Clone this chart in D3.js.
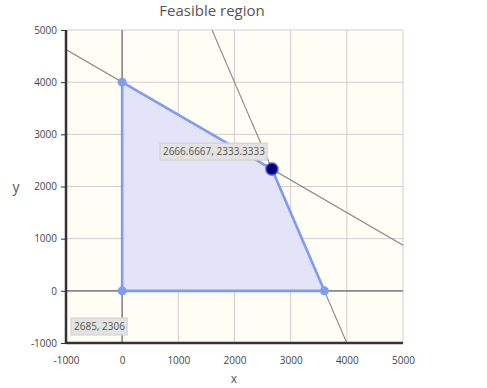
<!DOCTYPE html>
<html>
<head>
<meta charset="utf-8">
<script src="https://cdn.jsdelivr.net/npm/d3@7"></script>
<style>
  body { margin: 0; background: #fff; }
  svg { display: block; font-family: "Open Sans", sans-serif; }
</style>
</head>
<body>
<svg id="chart" width="487" height="388"></svg>
<script>
// data
const xTicks = [-1000, 0, 1000, 2000, 3000, 4000, 5000];
const yTicks = [-1000, 0, 1000, 2000, 3000, 4000, 5000];
// constraint lines a*x + b*y = c
const constraints = [
  { a: 5, b: 8, c: 32000 },
  { a: 5, b: 2, c: 18000 }
];
// feasible polygon vertices
const vertX = [0, 0, 2666.6667, 3600];
const vertY = [0, 4000, 2333.3333, 0];
const optimum = [2666.6667, 2333.3333];
const cursorLabel = "2685, 2306";

const margin = { top: 30, right: 84, bottom: 45, left: 66 };
const W = 487, H = 388;
const width = W - margin.left - margin.right;
const height = H - margin.top - margin.bottom;

const svg = d3.select("#chart");
const g = svg.append("g").attr("transform", `translate(${margin.left},${margin.top})`);

const x = d3.scaleLinear().domain([-1000, 5000]).range([0, width]);
const y = d3.scaleLinear().domain([-1000, 5000]).range([height, 0]);

// background
g.append("rect").attr("width", width).attr("height", height).attr("fill", "#fffdf4");

// grid
g.selectAll(".vg").data(xTicks).enter().append("line")
  .attr("x1", d => x(d)).attr("x2", d => x(d)).attr("y1", 0).attr("y2", height)
  .attr("stroke", "#cfcfcf").attr("stroke-width", 1);
g.selectAll(".hg").data(yTicks).enter().append("line")
  .attr("y1", d => y(d)).attr("y2", d => y(d)).attr("x1", 0).attr("x2", width)
  .attr("stroke", "#cfcfcf").attr("stroke-width", 1);

svg.append("clipPath").attr("id", "clip").append("rect")
  .attr("width", width).attr("height", height);
const plot = g.append("g").attr("clip-path", "url(#clip)");

// feasible region
const pts = vertX.map((v, i) => [v, vertY[i]]);
plot.append("polygon")
  .attr("points", pts.map(p => `${x(p[0])},${y(p[1])}`).join(" "))
  .attr("fill", "#e4e4f9").attr("stroke", "none");

// x=0 and y=0 lines
plot.append("line").attr("x1", x(0)).attr("x2", x(0)).attr("y1", 0).attr("y2", height)
  .attr("stroke", "#8a8a8a").attr("stroke-width", 1.6);
plot.append("line").attr("x1", 0).attr("x2", width).attr("y1", y(0)).attr("y2", y(0))
  .attr("stroke", "#8a8a8a").attr("stroke-width", 1.6);

// constraint lines
constraints.forEach(c => {
  let p1, p2;
  if (Math.abs(c.b) > Math.abs(c.a)) {
    p1 = [-1000, (c.c - c.a * -1000) / c.b];
    p2 = [5000, (c.c - c.a * 5000) / c.b];
  } else {
    p1 = [(c.c - c.b * 5000) / c.a, 5000];
    p2 = [(c.c - c.b * -1000) / c.a, -1000];
  }
  plot.append("line")
    .attr("x1", x(p1[0])).attr("y1", y(p1[1]))
    .attr("x2", x(p2[0])).attr("y2", y(p2[1]))
    .attr("stroke", "#888").attr("stroke-width", 1.1);
});

// polygon edges
plot.append("polygon")
  .attr("points", pts.map(p => `${x(p[0])},${y(p[1])}`).join(" "))
  .attr("fill", "none").attr("stroke", "#7f9cf2").attr("stroke-width", 2.6)
  .attr("stroke-linejoin", "round");

// vertices
plot.selectAll(".v").data(pts.filter(p => p[0] !== optimum[0])).enter().append("circle")
  .attr("cx", d => x(d[0])).attr("cy", d => y(d[1])).attr("r", 4.5)
  .attr("fill", "#7f9cf2");

// optimum
g.append("circle").attr("cx", x(optimum[0])).attr("cy", y(optimum[1])).attr("r", 6)
  .attr("fill", "#00007a").attr("stroke", "#4a5ad0").attr("stroke-opacity", 0.7).attr("stroke-width", 2);

// axes
const xAxis = g.append("g").attr("transform", `translate(0,${height})`)
  .call(d3.axisBottom(x).tickValues(xTicks).tickSize(0).tickPadding(14).tickFormat(d => String(d)));
const yAxis = g.append("g")
  .call(d3.axisLeft(y).tickValues(yTicks).tickSize(5).tickPadding(4).tickFormat(d => String(d)));
[xAxis, yAxis].forEach(a => {
  a.select(".domain").attr("stroke", "#333").attr("stroke-width", 2.5);
  a.selectAll("text").attr("fill", "#444").style("font-size", "10px").style("font-family", "Open Sans, sans-serif");
  a.selectAll(".tick line").attr("stroke", "#333");
});
xAxis.select(".domain").attr("d", `M0,0H${width}`);
yAxis.select(".domain").attr("d", `M0,0V${height}`);

// tooltip-like labels
function label(text, lx, ly) {
  const t = g.append("text").attr("x", lx + 3).attr("y", ly + 12)
    .attr("fill", "#555").style("font-size", "10px").text(text);
  const bb = t.node().getBBox();
  g.insert("rect", () => t.node())
    .attr("x", bb.x - 3).attr("y", ly).attr("width", bb.width + 5).attr("height", 17)
    .attr("fill", "#e3e3e1").attr("stroke", "#cfcfcc");
}
label("2666.6667, 2333.3333", x(optimum[0]) - 112, y(optimum[1]) - 26);
label(cursorLabel, 5, height - 25);

// title and axis labels
svg.append("text").attr("x", 212).attr("y", 16).attr("text-anchor", "middle")
  .attr("fill", "#555").style("font-size", "15px").text("Feasible region");
svg.append("text").attr("x", 16).attr("y", 192).attr("text-anchor", "middle")
  .attr("fill", "#555").style("font-size", "14px").text("y");
svg.append("text").attr("x", 234).attr("y", 383).attr("text-anchor", "middle")
  .attr("fill", "#555").style("font-size", "12px").text("x");
</script>
</body>
</html>
